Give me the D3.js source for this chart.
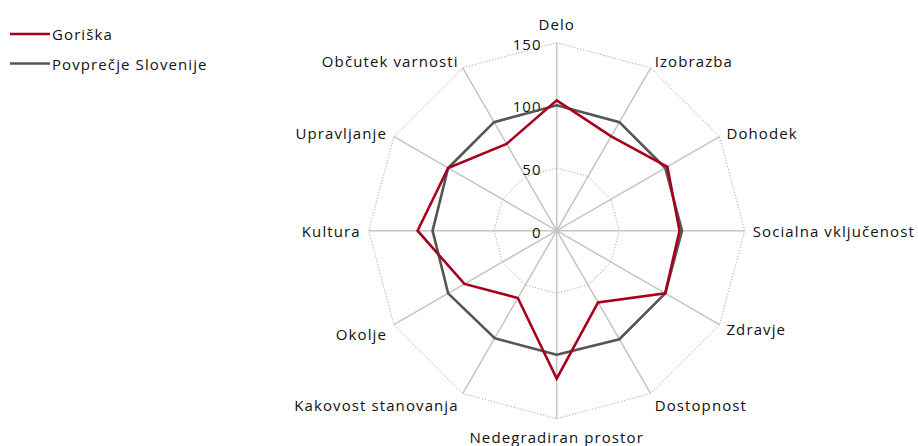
<!DOCTYPE html>
<html><head><meta charset="utf-8">
<script src="https://cdn.jsdelivr.net/npm/d3@7"></script>
<style>
body{margin:0;background:#fff;}
text{font-family:"Open Sans","Noto Sans",sans-serif;fill:#111;letter-spacing:1.1px;}
</style></head><body>
<svg id="c" width="918" height="446"></svg>
<script>
const categories = ["Delo","Izobrazba","Dohodek","Socialna vključenost","Zdravje","Dostopnost","Nedegradiran prostor","Kakovost stanovanja","Okolje","Kultura","Upravljanje","Občutek varnosti"];
const goriska = [104, 87, 102, 98, 100, 66, 118, 62, 85, 111, 100, 80];
const slovenija = [100, 100, 100, 100, 100, 100, 99, 99, 100, 99, 100, 100];
const tickValues = [0, 50, 100, 150];
const seriesNames = ["Goriška", "Povprečje Slovenije"];
const seriesColors = ["#A6001E", "#555555"];

const svg = d3.select("#c");
const cx = 556.7, cy = 230.7, R = 188;
const r = d3.scaleLinear().domain([0,150]).range([0,R]);
const n = categories.length;
const ang = d3.scaleLinear().domain([0,n]).range([0,2*Math.PI]);
const pt = (i,v) => [cx + r(v)*Math.sin(ang(i)), cy - r(v)*Math.cos(ang(i))];

const g = svg.append("g");
// rings (dotted)
tickValues.filter(t=>t>0).forEach(t=>{
  const pts = d3.range(n).map(i=>pt(i,t));
  g.append("path").attr("d", d3.line()(pts)+"Z")
   .attr("fill","none").attr("stroke","#A8A8A8").attr("stroke-width",1)
   .attr("stroke-dasharray","1.2,1.8");
});
// spokes
d3.range(n).forEach(i=>{
  const [x,y] = pt(i,150);
  g.append("line").attr("x1",cx).attr("y1",cy).attr("x2",x).attr("y2",y)
   .attr("stroke","#C4C4C4").attr("stroke-width",1.5);
});
// tick labels
tickValues.forEach(t=>{
  g.append("text").attr("x",cx-15).attr("y",cy-r(t)+1).attr("text-anchor","end")
   .attr("dominant-baseline","central").attr("font-size",15).text(t);
});
// series
[slovenija, goriska].forEach((s,k)=>{
  const col = k===0 ? seriesColors[1] : seriesColors[0];
  const pts = s.map((v,i)=>pt(i,v));
  g.append("path").attr("d", d3.line()(pts)+"Z")
   .attr("fill","none").attr("stroke",col).attr("stroke-width",2.6)
   .attr("stroke-linejoin","miter");
});
// category labels
categories.forEach((c,i)=>{
  const a = ang(i), s = Math.sin(a), co = Math.cos(a);
  let x = cx + (R+8)*s, y = cy - (R+8)*co;
  if (co > 0.99) y -= 11; else if (co < -0.99) y += 10; else if (co < -0.5) y += 5;
  const anchor = s > 0.1 ? "start" : (s < -0.1 ? "end" : "middle");
  g.append("text").attr("x",x).attr("y",y).attr("text-anchor",anchor)
   .attr("dominant-baseline","central").attr("font-size",15).text(c);
});
// legend
seriesNames.forEach((nm,k)=>{
  const y = 34 + k*29.5;
  svg.append("line").attr("x1",10).attr("x2",50).attr("y1",y).attr("y2",y)
    .attr("stroke",seriesColors[k]).attr("stroke-width",2.6);
  svg.append("text").attr("x",52).attr("y",y).attr("dominant-baseline","central")
    .attr("font-size",15).text(nm);
});
</script></body></html>
